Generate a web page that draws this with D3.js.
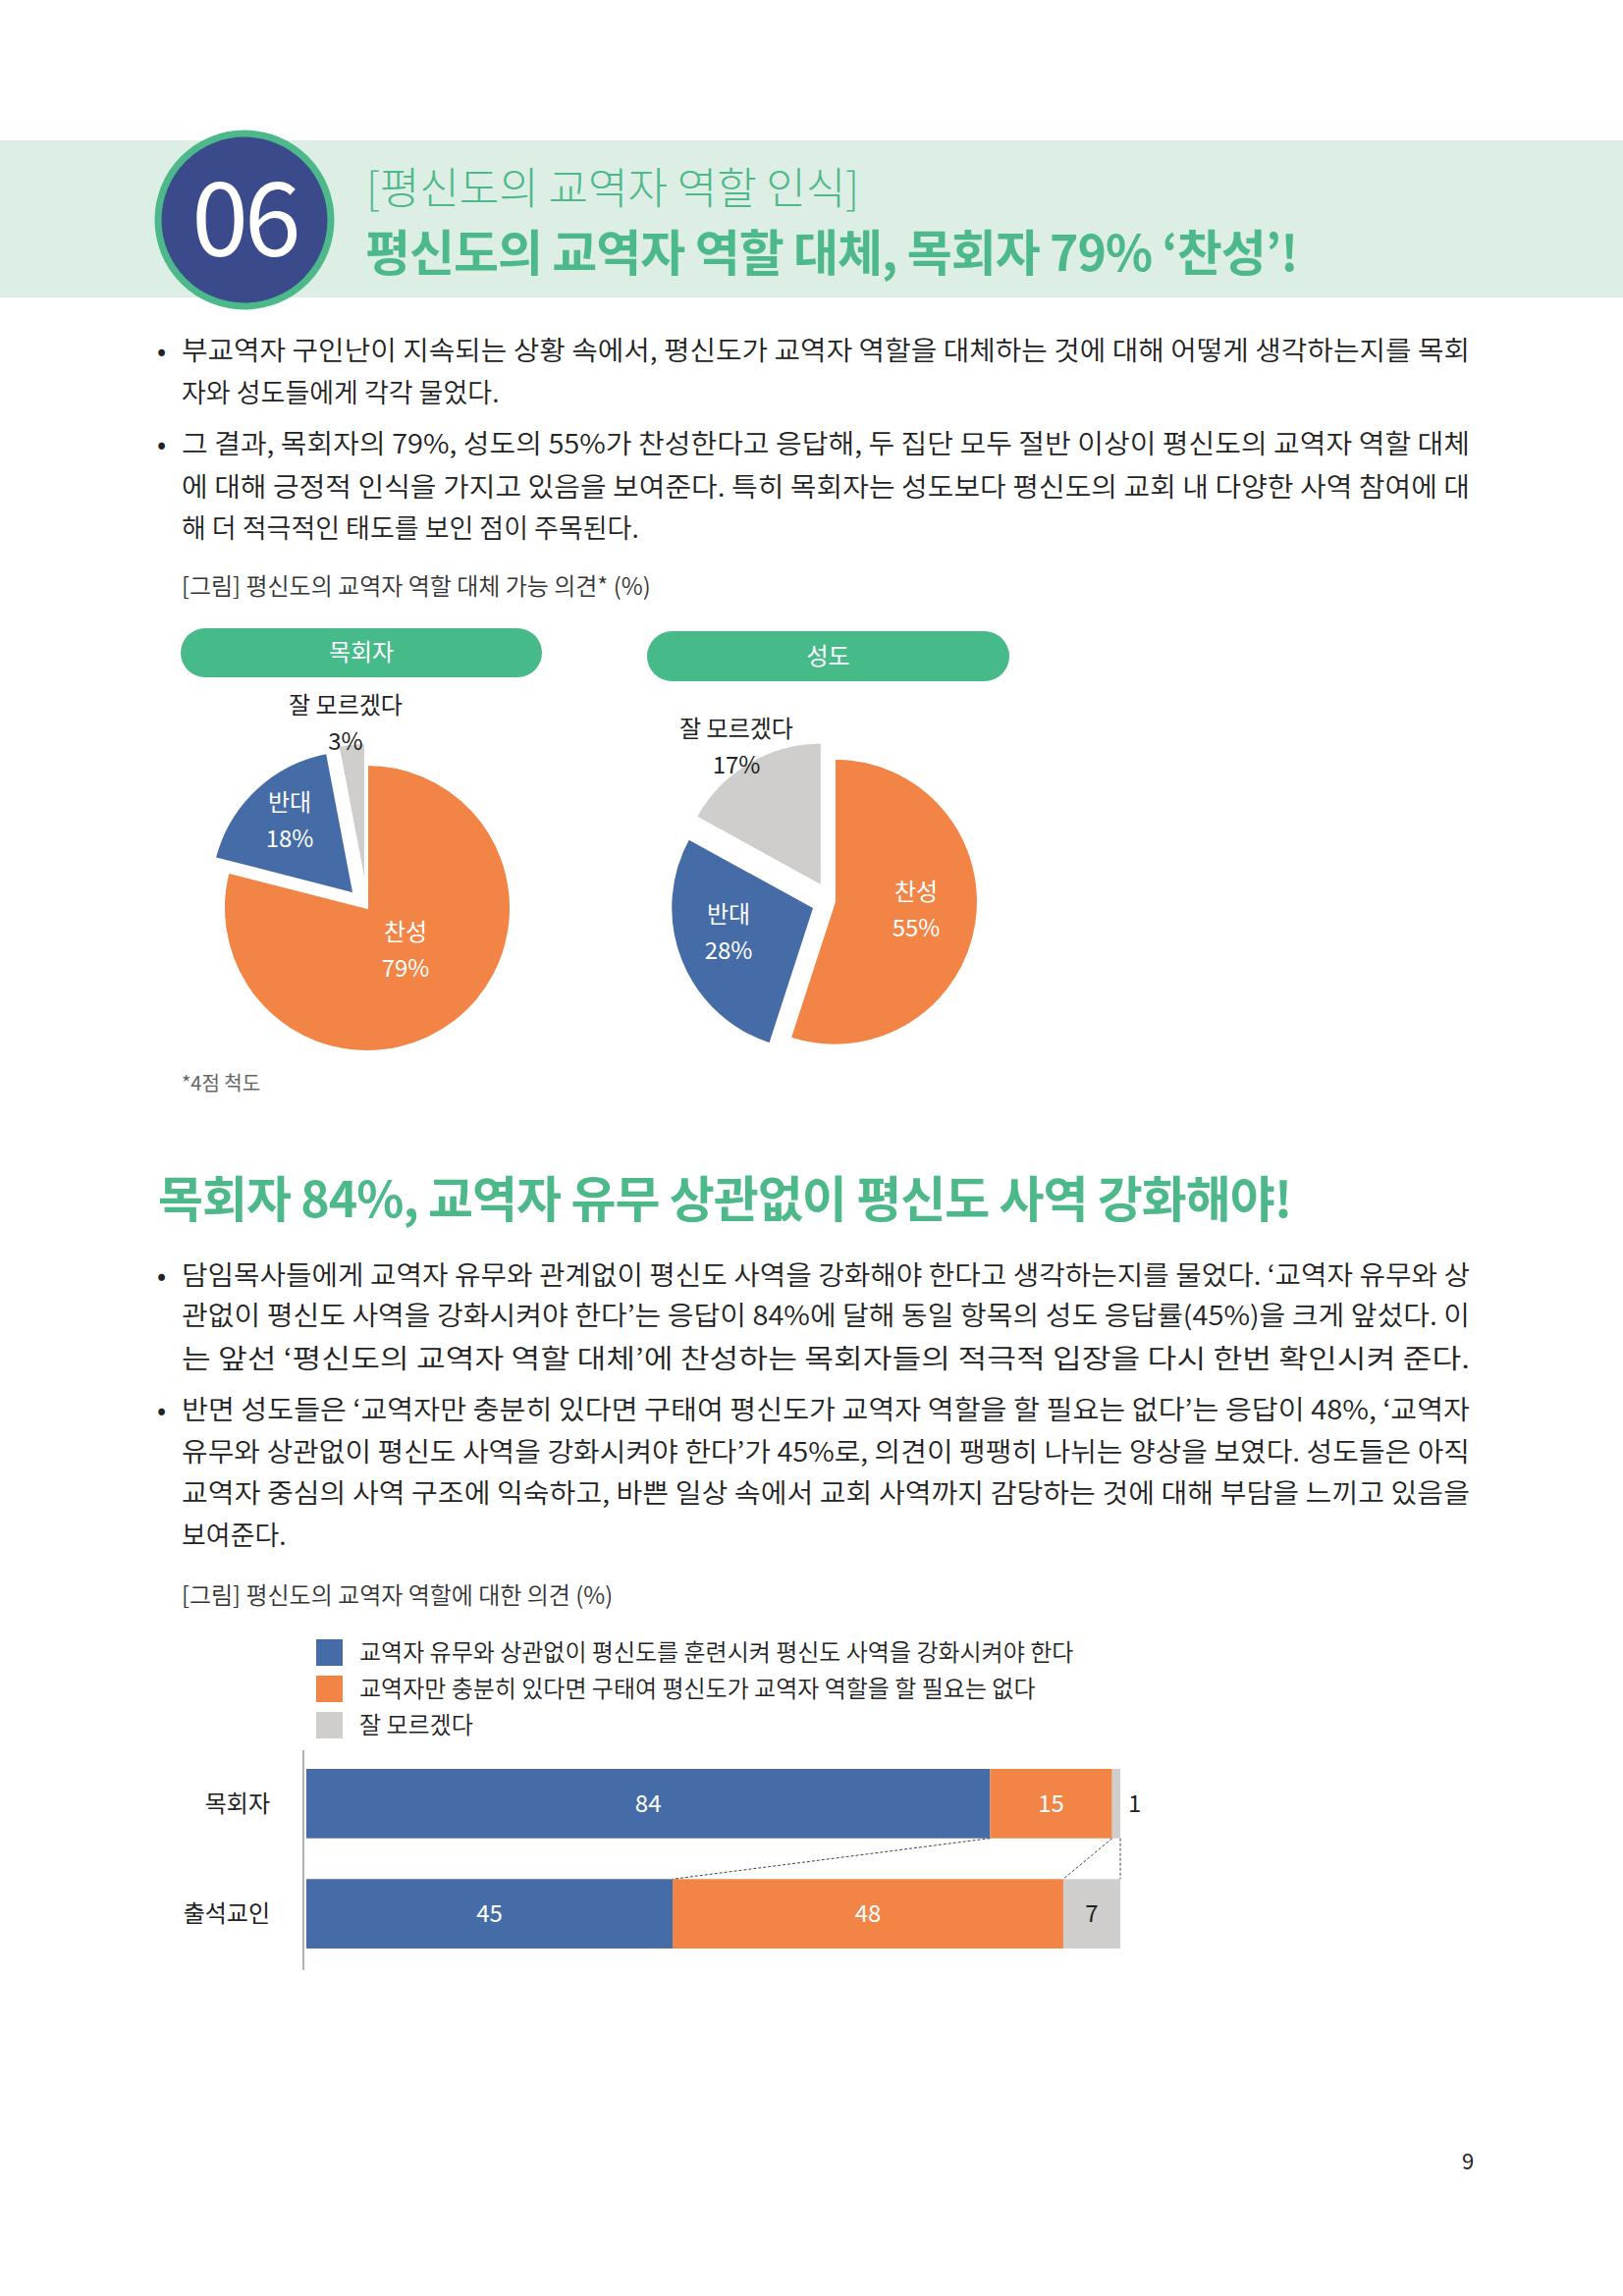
<!DOCTYPE html>
<html>
<head>
<meta charset="utf-8">
<title>평신도의 교역자 역할 인식</title>
<script src="https://d3js.org/d3.v7.min.js"></script>
<style>
  body { margin:0; background:#fff; }
  text { font-family: "Noto Sans CJK KR", "Noto Sans", sans-serif; }
</style>
</head>
<body>
<script>
// ---- data ----
const pieLabels = ["찬성", "반대", "잘 모르겠다"];
const pastorPie = [79, 18, 3];
const laityPie = [55, 28, 17];
const pieColors = ["#F28546", "#456CA6", "#CFCECC"];

const barGroups = ["목회자", "출석교인"];
const barSeries = [
  "교역자 유무와 상관없이 평신도를 훈련시켜 평신도 사역을 강화시켜야 한다",
  "교역자만 충분히 있다면 구태여 평신도가 교역자 역할을 할 필요는 없다",
  "잘 모르겠다"
];
const barValues = [[84, 15, 1], [45, 48, 7]];

const para1 = [
  ["• ", "부교역자 구인난이 지속되는 상황 속에서, 평신도가 교역자 역할을 대체하는 것에 대해 어떻게 생각하는지를 목회"],
  ["", "자와 성도들에게 각각 물었다."],
  ["• ", "그 결과, 목회자의 79%, 성도의 55%가 찬성한다고 응답해, 두 집단 모두 절반 이상이 평신도의 교역자 역할 대체"],
  ["", "에 대해 긍정적 인식을 가지고 있음을 보여준다. 특히 목회자는 성도보다 평신도의 교회 내 다양한 사역 참여에 대"],
  ["", "해 더 적극적인 태도를 보인 점이 주목된다."]
];
const para1Y = [358, 401, 453, 497, 539];
const para2 = [
  ["• ", "담임목사들에게 교역자 유무와 관계없이 평신도 사역을 강화해야 한다고 생각하는지를 물었다. ‘교역자 유무와 상"],
  ["", "관없이 평신도 사역을 강화시켜야 한다’는 응답이 84%에 달해 동일 항목의 성도 응답률(45%)을 크게 앞섰다. 이"],
  ["", "는 앞선 ‘평신도의 교역자 역할 대체’에 찬성하는 목회자들의 적극적 입장을 다시 한번 확인시켜 준다."],
  ["• ", "반면 성도들은 ‘교역자만 충분히 있다면 구태여 평신도가 교역자 역할을 할 필요는 없다’는 응답이 48%, ‘교역자"],
  ["", "유무와 상관없이 평신도 사역을 강화시켜야 한다’가 45%로, 의견이 팽팽히 나뉘는 양상을 보였다. 성도들은 아직"],
  ["", "교역자 중심의 사역 구조에 익숙하고, 바쁜 일상 속에서 교회 사역까지 감당하는 것에 대해 부담을 느끼고 있음을"],
  ["", "보여준다."]
];
const para2Y = [1300, 1341, 1385, 1437, 1480, 1522, 1565];

const W = 1653, H = 2339;
const svg = d3.select("body").append("svg").attr("width", W).attr("height", H);

// header band
svg.append("rect").attr("x", 0).attr("y", 143).attr("width", W).attr("height", 160).attr("fill", "#DDEEE5");
svg.append("circle").attr("cx", 249).attr("cy", 224).attr("r", 88)
  .attr("fill", "#3A4A8A").attr("stroke", "#4DB98A").attr("stroke-width", 7);
svg.append("text").attr("x", 249).attr("y", 224).attr("dy", "0.36em").attr("text-anchor", "middle")
  .attr("fill", "#fff").attr("font-size", 104).attr("font-family", "Roboto, sans-serif").attr("letter-spacing", -4).text("06");
svg.append("text").attr("x", 373).attr("y", 208).attr("fill", "#4DB98A").attr("font-size", 44).attr("font-weight", 300)
  .text("[평신도의 교역자 역할 인식]");
svg.append("text").attr("x", 372).attr("y", 276).attr("fill", "#4DB98A").attr("font-size", 50).attr("font-weight", 700)
  .attr("letter-spacing", -1).text("평신도의 교역자 역할 대체, 목회자 79% ‘찬성’!");

function paragraph(lines, ys) {
  lines.forEach((l, i) => {
    if (l[0]) svg.append("text").attr("x", 160).attr("y", ys[i]).attr("dy", "0.35em").attr("font-size", 27).attr("fill", "#222").text("•");
    svg.append("text").attr("x", 185).attr("y", ys[i]).attr("dy", "0.35em").attr("font-size", 27).attr("font-weight", 350).attr("fill", "#222")
      .attr("textLength", l[1].length > 50 ? 1312 : null).attr("lengthAdjust", "spacingAndGlyphs").text(l[1]);
  });
}
paragraph(para1, para1Y);
paragraph(para2, para2Y);

svg.append("text").attr("x", 185).attr("y", 598).attr("dy", "0.35em").attr("font-size", 24).attr("font-weight", 350).attr("fill", "#333")
  .text("[그림] 평신도의 교역자 역할 대체 가능 의견* (%)");

// pills
function pill(x, y, w, h, label) {
  svg.append("rect").attr("x", x).attr("y", y).attr("width", w).attr("height", h).attr("rx", h / 2).attr("fill", "#47BA8A");
  svg.append("text").attr("x", x + w / 2).attr("y", y + h / 2).attr("dy", "0.35em").attr("text-anchor", "middle")
    .attr("fill", "#fff").attr("font-size", 24).text(label);
}
pill(184, 640, 368, 50, "목회자");
pill(659, 643, 369, 51, "성도");

// pies
const pie = d3.pie().sort(null).value(d => d);
function drawPie(values, cx, cy, r, explode, labelPos) {
  const g = svg.append("g").attr("transform", `translate(${cx},${cy})`);
  const arc = d3.arc().innerRadius(0).outerRadius(r);
  pie(values).forEach((a, i) => {
    const mid = (a.startAngle + a.endAngle) / 2;
    const dx = Math.sin(mid) * explode[i], dy = -Math.cos(mid) * explode[i];
    g.append("path").attr("d", arc(a)).attr("fill", pieColors[i])
      .attr("transform", `translate(${dx},${dy})`).attr("stroke", "#fff").attr("stroke-width", 2);
    const [lx, ly] = labelPos[i];
    const col = i === 2 ? "#222" : "#fff";
    g.append("text").attr("x", lx - cx).attr("y", ly - cy).attr("text-anchor", "middle").attr("dy", "0.35em")
      .attr("font-size", 24).attr("fill", col).text(pieLabels[i]);
    g.append("text").attr("x", lx - cx).attr("y", ly - cy + 37).attr("text-anchor", "middle").attr("dy", "0.35em")
      .attr("font-size", 24).attr("fill", col).text(values[i] + "%");
  });
}
drawPie(pastorPie, 374, 925, 146, [0, 20, 22], [[413, 950], [295, 818], [352, 719]]);
drawPie(laityPie, 846, 918, 146, [4, 18, 18], [[933, 909], [742, 932], [750, 743]]);

svg.append("text").attr("x", 185).attr("y", 1104).attr("dy", "0.35em").attr("font-size", 20).attr("fill", "#666").text("*4점 척도");

svg.append("text").attr("x", 161).attr("y", 1222).attr("dy", "0.35em").attr("fill", "#4DB98A").attr("font-size", 50)
  .attr("font-weight", 700).attr("letter-spacing", -1).text("목회자 84%, 교역자 유무 상관없이 평신도 사역 강화해야!");

svg.append("text").attr("x", 185).attr("y", 1626).attr("dy", "0.35em").attr("font-size", 24).attr("font-weight", 350).attr("fill", "#333")
  .text("[그림] 평신도의 교역자 역할에 대한 의견 (%)");

// legend
barSeries.forEach((s, i) => {
  svg.append("rect").attr("x", 322).attr("y", 1670 + i * 37).attr("width", 27).attr("height", 27).attr("fill", pieColors[[1, 0, 2][i]]);
  svg.append("text").attr("x", 366).attr("y", 1684 + i * 37).attr("dy", "0.35em").attr("font-size", 24).attr("font-weight", 350).attr("fill", "#222").text(s);
});

// stacked bars
const barColors = ["#456CA6", "#F28546", "#CFCECC"];
const x = d3.scaleLinear().domain([0, 100]).range([312, 1141]);
const y = d3.scaleBand().domain(barGroups).range([1802, 1985]).paddingInner(0.37).paddingOuter(0);
svg.append("line").attr("x1", 309).attr("x2", 309).attr("y1", 1783).attr("y2", 2007).attr("stroke", "#999").attr("stroke-width", 1.5);

const stacks = barValues.map(vals => {
  let acc = 0;
  return vals.map(v => { const s = [acc, acc + v]; acc += v; return s; });
});
barGroups.forEach((grp, gi) => {
  svg.append("text").attr("x", 275).attr("y", y(grp) + y.bandwidth() / 2).attr("dy", "0.35em").attr("text-anchor", "end")
    .attr("font-size", 24).attr("fill", "#222").text(grp);
  stacks[gi].forEach((s, i) => {
    svg.append("rect").attr("x", x(s[0])).attr("y", y(grp)).attr("width", x(s[1]) - x(s[0])).attr("height", y.bandwidth()).attr("fill", barColors[i]);
    const v = barValues[gi][i];
    const small = v < 3;
    svg.append("text").attr("x", small ? x(s[1]) + 8 : (x(s[0]) + x(s[1])) / 2)
      .attr("y", y(grp) + y.bandwidth() / 2).attr("dy", "0.35em").attr("text-anchor", small ? "start" : "middle")
      .attr("font-size", 24).attr("fill", i === 2 ? "#222" : "#fff").text(v);
  });
});
// connectors
const yb1 = y(barGroups[0]) + y.bandwidth(), yt2 = y(barGroups[1]);
[[0, 0], [1, 1], [2, 2]].forEach(([a, b]) => {
  svg.append("line").attr("x1", x(stacks[0][a][1])).attr("y1", yb1).attr("x2", x(stacks[1][b][1])).attr("y2", yt2)
    .attr("stroke", "#444").attr("stroke-width", 1).attr("stroke-dasharray", "3,2");
});

svg.append("text").attr("x", 1495).attr("y", 2202).attr("dy", "0.35em").attr("text-anchor", "middle").attr("font-size", 22).attr("fill", "#222").text("9");
</script>
</body>
</html>
